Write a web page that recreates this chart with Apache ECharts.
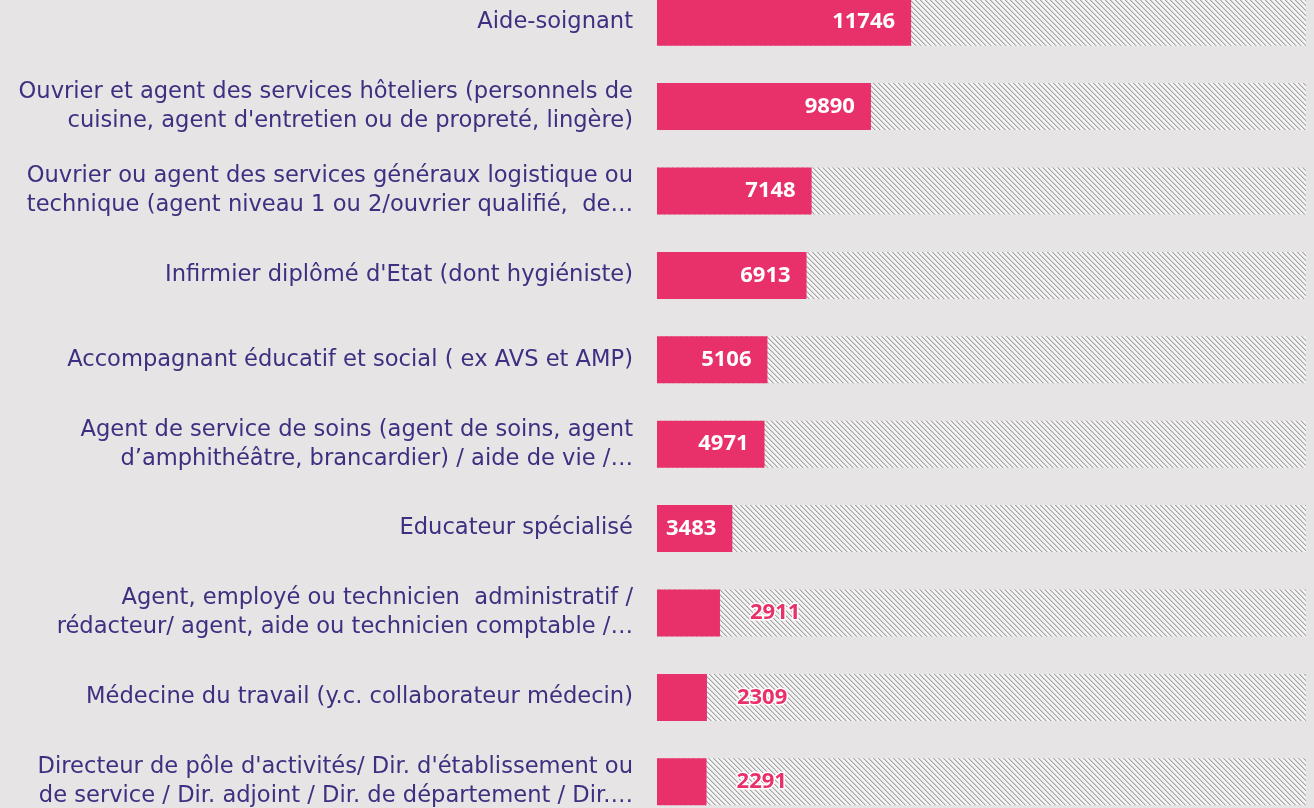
<!DOCTYPE html>
<html><head><meta charset="utf-8">
<script src="https://cdn.jsdelivr.net/npm/echarts@6/dist/echarts.min.js"></script>
<style>html,body{margin:0;padding:0;background:#E6E4E5;overflow:hidden;width:1314px;height:808px;position:relative;}#c{position:absolute;left:0;top:-20px;width:1314px;height:844px;}</style>
</head><body><div id="c"></div>
<script>
const categories = [
  "Aide-soignant",
  "Ouvrier et agent des services hôteliers (personnels de\ncuisine, agent d'entretien ou de propreté, lingère)",
  "Ouvrier ou agent des services généraux logistique ou\ntechnique (agent niveau 1 ou 2/ouvrier qualifié,  de…",
  "Infirmier diplômé d'Etat (dont hygiéniste)",
  "Accompagnant éducatif et social ( ex AVS et AMP)",
  "Agent de service de soins (agent de soins, agent\nd’amphithéâtre, brancardier) / aide de vie /…",
  "Educateur spécialisé",
  "Agent, employé ou technicien  administratif /\nrédacteur/ agent, aide ou technicien comptable /…",
  "Médecine du travail (y.c. collaborateur médecin)",
  "Directeur de pôle d'activités/ Dir. d'établissement ou\nde service / Dir. adjoint / Dir. de département / Dir.…"
];
const values = [11746, 9890, 7148, 6913, 5106, 4971, 3483, 2911, 2309, 2291];
const axisMax = 30000;

const cv = document.createElement('canvas');
cv.width = 5; cv.height = 5;
const cx = cv.getContext('2d');
cx.fillStyle = '#F3F3F3'; cx.fillRect(0,0,5,5);
for (let i = 0; i < 5; i++) {
  cx.fillStyle = '#A4A4A4'; cx.fillRect(i, i, 1, 1);
  cx.fillStyle = '#D0D0D0'; cx.fillRect((i+1)%5, i, 1, 1);
}

const PINK = '#E8306A';
const data = values.map(v => {
  const outside = v < 3000;
  return {
    value: v,
    label: outside ? {
      position: 'right', distance: 30, color: PINK,
      textBorderColor: '#FFFFFF', textBorderWidth: 3
    } : { position: 'insideRight', distance: 16, color: '#FFFFFF' }
  };
});

const chart = echarts.init(document.getElementById('c'));
chart.setOption({
  backgroundColor: '#E6E4E5',
  animation: false,
  grid: { left: 657, right: 8, top: 0, bottom: 0, containLabel: false },
  xAxis: { type: 'value', min: 0, max: axisMax, show: false },
  yAxis: {
    type: 'category', data: categories, inverse: true,
    axisLine: { show: false }, axisTick: { show: false },
    axisLabel: { color: '#3F2F80', fontFamily: 'DejaVu Sans', fontSize: 22.6, margin: 24, lineHeight: 29, align: 'right', padding: [4, 0, 0, 0] }
  },
  series: [{
    type: 'bar', data: data, barWidth: 47,
    itemStyle: { color: PINK },
    showBackground: true,
    backgroundStyle: { color: { image: cv, repeat: 'repeat' } },
    label: { show: true, fontFamily: 'Open Sans', fontSize: 22, fontWeight: 'bold', padding: [4, 0, 0, 0] }
  }]
});
</script></body></html>
